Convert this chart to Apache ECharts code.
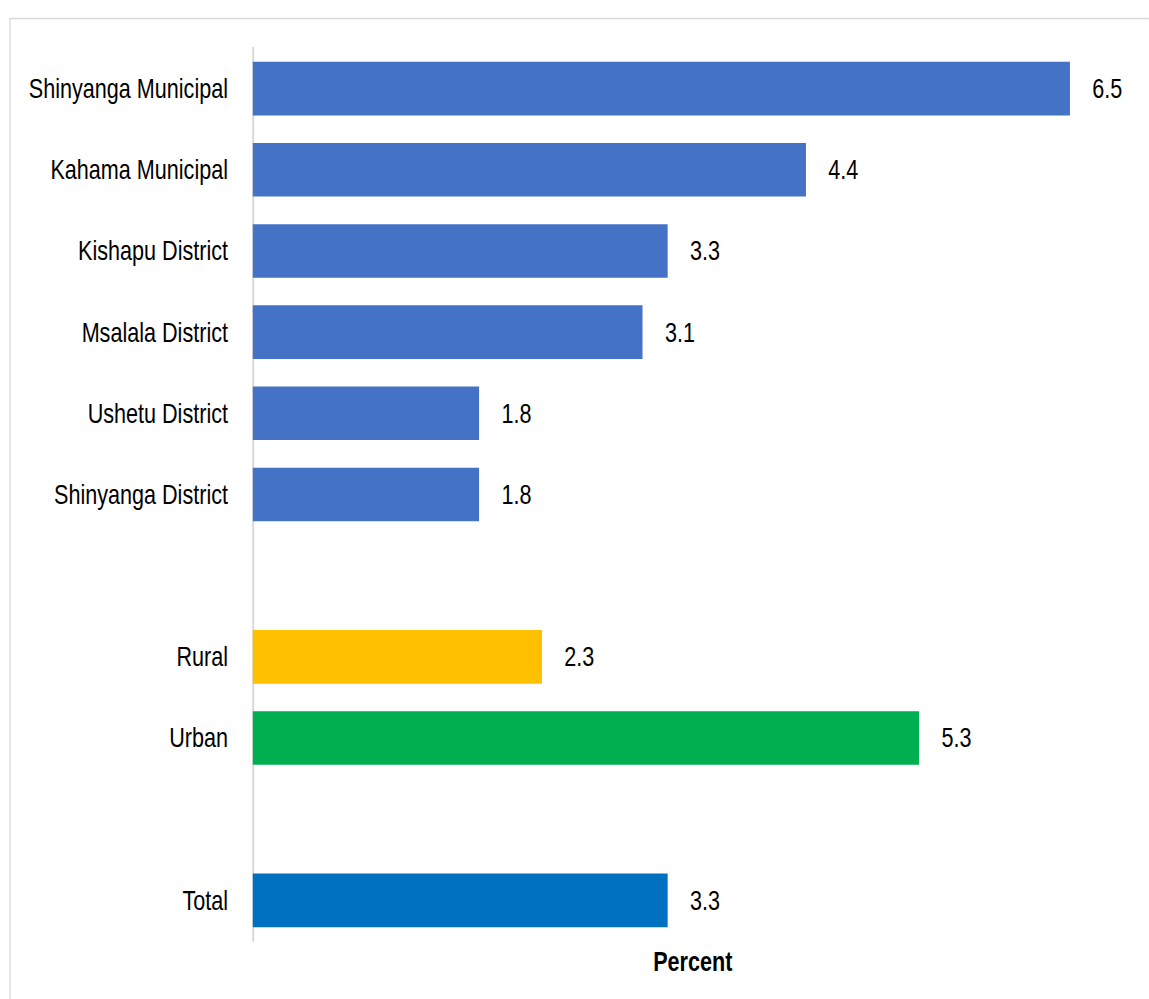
<!DOCTYPE html>
<html>
<head>
<meta charset="utf-8">
<script src="https://cdn.jsdelivr.net/npm/echarts@6/dist/echarts.min.js"></script>
<style>
  html, body { margin: 0; padding: 0; background: #fff; overflow: hidden; }
  /* The chart is laid out wider and compressed horizontally so that the
     Arial-metric text takes on a narrow (Arial Narrow-like) look. */
  #chart {
    width: 1436px; height: 999px;
    transform: scaleX(0.8); transform-origin: 0 0;
  }
</style>
</head>
<body>
<div id="chart"></div>
<script>
// Rows from top to bottom; blank rows separate the groups
const categories = [
  'Shinyanga Municipal', 'Kahama Municipal', 'Kishapu District', 'Msalala District',
  'Ushetu District', 'Shinyanga District', ' ', 'Rural', 'Urban', '  ', 'Total'
];
const values = [6.5, 4.4, 3.3, 3.1, 1.8, 1.8, null, 2.3, 5.3, null, 3.3];
const barColors = [
  '#4472C4', '#4472C4', '#4472C4', '#4472C4', '#4472C4', '#4472C4',
  null, '#FFC000', '#00B050', null, '#0070C0'
];
const axisName = 'Percent';

const FONT = '"Liberation Sans", Arial, sans-serif';

const chart = echarts.init(document.getElementById('chart'), null, { renderer: 'svg' });

chart.setOption({
  backgroundColor: '#ffffff',
  animation: false,
  graphic: [{
    type: 'rect',
    shape: { x: 12.5, y: 18.5, width: 1700, height: 1200 },
    style: { fill: 'none', stroke: '#d9d9d9', lineWidth: 1.6 },
    silent: true
  }],
  grid: {
    left: 316, right: 20, top: 48, bottom: 58,
    containLabel: false, outerBoundsMode: 'none'
  },
  xAxis: {
    type: 'value',
    min: 0,
    max: 7,
    axisLine: { show: false },
    axisTick: { show: false },
    axisLabel: { show: false },
    splitLine: { show: false },
    name: axisName,
    nameLocation: 'middle',
    nameGap: 7,
    nameTextStyle: {
      fontFamily: FONT, fontSize: 27, fontWeight: 'bold', color: '#000',
      verticalAlign: 'top'
    }
  },
  yAxis: {
    type: 'category',
    inverse: true,
    data: categories,
    axisLine: { show: true, lineStyle: { color: '#d9d9d9', width: 2.5 } },
    axisTick: { show: false },
    splitLine: { show: false },
    axisLabel: {
      margin: 31, fontFamily: FONT, fontSize: 27, color: '#000'
    }
  },
  series: [{
    type: 'bar',
    barCategoryGap: '34%',
    data: values.map((v, i) => v === null ? null : {
      value: v,
      itemStyle: { color: barColors[i] }
    }),
    label: {
      show: true,
      position: 'right',
      distance: 28,
      fontFamily: FONT,
      fontSize: 27,
      color: '#000',
      formatter: p => p.value.toFixed(1)
    }
  }]
});
</script>
</body>
</html>
